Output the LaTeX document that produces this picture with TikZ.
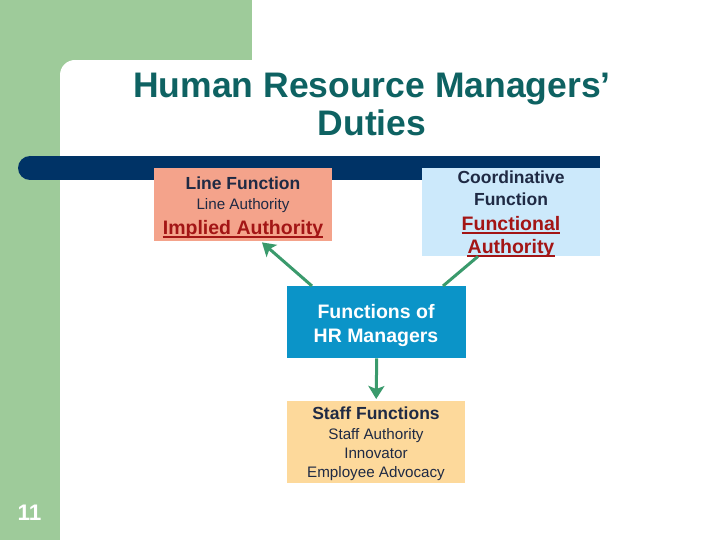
\documentclass[tikz,border=0pt]{standalone}
\usepackage{fontspec}
\setmainfont{Liberation Sans}
\usetikzlibrary{arrows.meta,calc}
\definecolor{bggreen}{HTML}{9ECB9A}
\definecolor{barnavy}{HTML}{003366}
\definecolor{salmon}{HTML}{F4A38B}
\definecolor{lightblue}{HTML}{CCE9FB}
\definecolor{hrblue}{HTML}{0B94C8}
\definecolor{paleyellow}{HTML}{FDD99B}
\definecolor{txtnavy}{HTML}{1F2A44}
\definecolor{darkred}{HTML}{A31515}
\definecolor{titleteal}{HTML}{0E6262}
\definecolor{arrowgreen}{HTML}{3A9A6C}
\tikzset{
  box/.style={draw=none, inner sep=0pt, anchor=north west},
  txt/.style={anchor=base, inner sep=0pt, text=txtnavy},
  bold18/.style={font=\fontsize{17.5}{20}\selectfont\bfseries},
  reg15/.style={font=\fontsize{15.2}{18}\selectfont},
  redul/.style={anchor=base, inner sep=0pt, text=darkred, font=\fontsize{19.5}{22}\selectfont\bfseries},
  conn/.style={draw=arrowgreen, line width=3pt},
  tip/.style={-{Stealth[length=13pt,width=16pt,inset=3pt]}},
}
\newcommand{\ulunder}[1]{\draw[darkred, line width=1.6pt] ($(#1.base west)+(0,3)$) -- ($(#1.base east)+(0,3)$);}
\begin{document}
\begin{tikzpicture}[x=1pt,y=-1pt]
\useasboundingbox (0,0) rectangle (720,540);
\clip (0,0) rectangle (720,540);
% background
\fill[bggreen] (0,0) rectangle (720,540);
\fill[white] (252,0) rectangle (720,60);
\fill[white] (75,60) rectangle (720,540);
\fill[white] (60,75) rectangle (720,540);
\fill[white] (75,75) circle (15pt);
% navy bar
\fill[barnavy] (30,156) rectangle (600,180);
\fill[barnavy] (30,168) circle (12pt);
% title
\node[anchor=base, inner sep=0pt, text=titleteal, font=\fontsize{35.5}{40}\selectfont\bfseries] (t1) at (372,98) {Human Resource Managers’};
\node[anchor=base, inner sep=0pt, text=titleteal, font=\fontsize{35.5}{40}\selectfont\bfseries] (t2) at (372,136) {Duties};
% boxes
\node[box, fill=salmon, minimum width=178pt, minimum height=73pt] (lf) at (154,168) {};
\node[box, fill=lightblue, minimum width=178pt, minimum height=88pt] (cf) at (422,168) {};
\node[box, fill=hrblue, minimum width=179pt, minimum height=72pt] (hr) at (287,286) {};
\node[box, fill=paleyellow, minimum width=178pt, minimum height=82pt] (sf) at (287,401) {};
% line function text
\node[txt, bold18] (lf1) at (243,190) {Line Function};
\node[txt, reg15] (lf2) at (243,209.5) {Line Authority};
\node[redul] (lf3) at (243,234) {Implied Authority};
\ulunder{lf3}
% coordinative text
\node[txt, bold18] (cf1) at (511,184) {Coordinative};
\node[txt, bold18] (cf2) at (511,205.5) {Function};
\node[redul] (cf3) at (511,230) {Functional};
\ulunder{cf3}
\node[redul] (cf4) at (511,253) {Authority};
\ulunder{cf4}
% HR text
\node[txt, text=white, font=\fontsize{19.5}{22}\selectfont\bfseries] (hr1) at (376,318) {Functions of};
\node[txt, text=white, font=\fontsize{19.5}{22}\selectfont\bfseries] (hr2) at (376,342) {HR Managers};
% staff text
\node[txt, bold18] (sf1) at (376,419) {Staff Functions};
\node[txt, reg15] (sf2) at (376,439.5) {Staff Authority};
\node[txt, reg15] (sf3) at (376,458.5) {Innovator};
\node[txt, reg15] (sf4) at (376,477.5) {Employee Advocacy};
% page number
\node[anchor=base, inner sep=0pt, text=white, font=\fontsize{22.5}{26}\selectfont\bfseries] (pg) at (29.5,520) {11};
% connectors
\draw[conn, tip] ($(hr.north west)+(25,0)$) -- ($(lf.south west)+(108,1)$);
\draw[conn] ($(hr.north west)+(156,0)$) -- ($(cf.south west)+(56,0)$);
\draw[conn, tip] (hr.south) -- ($(sf.north)+(0,-2)$);
\end{tikzpicture}
\end{document}
